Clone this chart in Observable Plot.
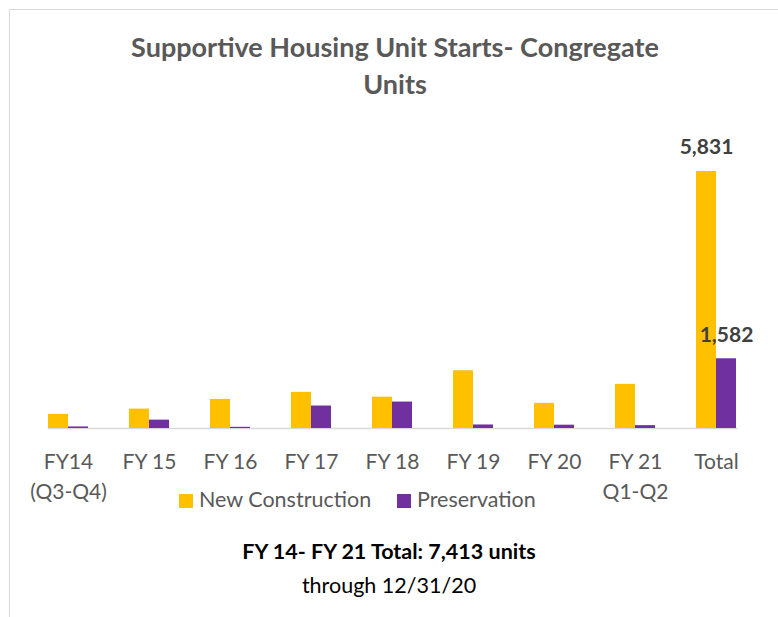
<!DOCTYPE html>
<html><head><meta charset="utf-8">
<script src="https://cdn.jsdelivr.net/npm/d3@7"></script>
<script src="https://cdn.jsdelivr.net/npm/@observablehq/plot@0.6"></script>
<style>
body{margin:0;background:#fff;}
#wrap{position:relative;width:778px;height:617px;overflow:hidden;font-family:Lato,sans-serif;background:#fff;}
#border{position:absolute;left:9px;top:9px;width:800px;height:700px;border-left:1.5px solid #d9d9d9;border-top:1.5px solid #d9d9d9;}
#chart{position:absolute;left:0;top:0;}
.title{position:absolute;left:6px;width:778px;text-align:center;font-weight:bold;font-size:27px;color:#595959;line-height:1;}
#legend{position:absolute;top:489px;left:0;width:778px;font-size:21.5px;color:#595959;}
.sw{position:absolute;width:14px;height:14px;}
.lt{position:absolute;line-height:1;}
.cap{position:absolute;left:0;width:778px;text-align:center;font-size:21.5px;color:#000;line-height:1;}
</style></head>
<body><div id="wrap"><div id="border"></div><div id="chart"></div>
<div class="title" style="top:33px">Supportive Housing Unit Starts- Congregate</div>
<div class="title" style="top:70px">Units</div>
<div id="legend"></div>
<div class="cap" style="top:541px;font-weight:bold">FY 14- FY 21 Total: 7,413 units</div>
<div class="cap" style="top:575px">through 12/31/20</div>
</div>
<script>
const categories = ["FY14\n(Q3-Q4)","FY 15","FY 16","FY 17","FY 18","FY 19","FY 20","FY 21\nQ1-Q2","Total"];
const series = ["New Construction","Preservation"];
const newConstruction = [320,440,660,820,710,1310,570,1001,5831];
const preservation = [35,190,27,510,600,80,75,65,1582];
const colors = ["#FFC000","#7030A0"];
const labelledCategory = "Total";

const data = categories.flatMap((c,i)=>[
  {category:c, series:series[0], value:newConstruction[i]},
  {category:c, series:series[1], value:preservation[i]}
]);

const chart = Plot.plot({
  width:778, height:530, marginLeft:24, marginRight:18, marginTop:100, marginBottom:102,
  style:{fontFamily:"Lato, sans-serif", background:"transparent"},
  fx:{domain:categories, paddingInner:0.51, paddingOuter:0.255, axis:null, label:null},
  x:{domain:series, padding:0, axis:null},
  y:{domain:[0,7442], axis:null},
  color:{domain:series, range:colors},
  marks:[
    Plot.frame({anchor:"bottom", stroke:"#d9d9d9", strokeWidth:1.5, facet:"super"}),
    Plot.barY(data,{fx:"category", x:"series", y:"value", fill:"series"}),
    Plot.text(data.filter(d=>d.category===labelledCategory),{fx:"category", x:"series", y:"value",
      text:d=>d3.format(",")(d.value), dy:-24, fontSize:21, fontWeight:"bold", fill:"#404040"}),
    Plot.text(categories,{fx:d=>d, text:d=>d, frameAnchor:"bottom", lineAnchor:"top", dy:19,
      fontSize:21, fill:"#595959", lineHeight:1.43})
  ]
});
document.getElementById("chart").appendChild(chart);

const legend = document.getElementById("legend");
const legendX = [[179,199],[397,417]];
series.forEach((s,i)=>{
  const sw=document.createElement("div"); sw.className="sw";
  sw.style.left=legendX[i][0]+"px"; sw.style.top="5px"; sw.style.background=colors[i];
  const t=document.createElement("div"); t.className="lt"; t.textContent=s;
  t.style.left=legendX[i][1]+"px"; t.style.top="0px";
  legend.appendChild(sw); legend.appendChild(t);
});
</script></body></html>
